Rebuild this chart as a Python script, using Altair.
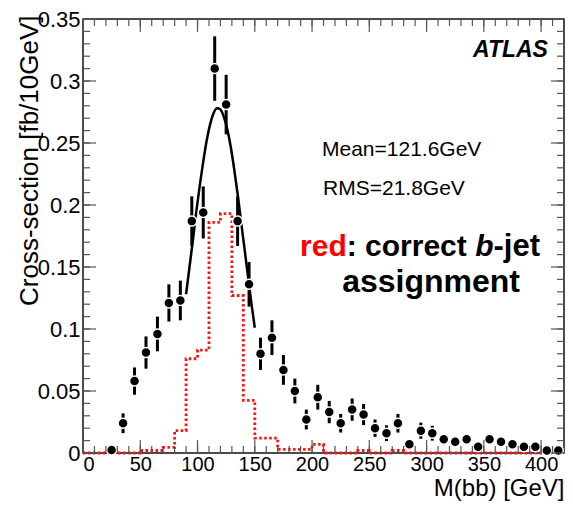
import altair as alt
import pandas as pd

# ---- data ----
centers = [25, 35, 45, 55, 65, 75, 85, 95, 105, 115, 125, 135, 145, 155, 165, 175, 185, 195,
           205, 215, 225, 235, 245, 255, 265, 275, 285, 295, 305, 315, 325, 335, 345, 355,
           365, 375, 385, 395, 405, 415]
xsec = [0.0024, 0.024, 0.058, 0.081, 0.096, 0.121, 0.123, 0.187, 0.194, 0.310, 0.281, 0.187,
        0.136, 0.080, 0.093, 0.067, 0.050, 0.027, 0.045, 0.033, 0.024, 0.035, 0.031, 0.020,
        0.016, 0.024, 0.007, 0.018, 0.016, 0.011, 0.009, 0.011, 0.005, 0.011, 0.009, 0.007,
        0.005, 0.005, 0.002, 0.002]
err = [0.002, 0.008, 0.011, 0.013, 0.014, 0.015, 0.016, 0.020, 0.021, 0.026, 0.024, 0.020,
       0.018, 0.013, 0.014, 0.012, 0.010, 0.008, 0.010, 0.009, 0.0075, 0.009, 0.0085, 0.007,
       0.0063, 0.0075, 0.003, 0.0065, 0.006, 0.004, 0.003, 0.004, 0.003, 0.004, 0.003, 0.003,
       0.003, 0.003, 0.002, 0.002]

red_edges = list(range(0, 430, 10))
red_vals = [0, 0, 0, 0, 0, 0.002, 0.002, 0.0045, 0.018, 0.076, 0.083, 0.186, 0.193, 0.127,
            0.0425, 0.012, 0.012, 0.003, 0.003, 0.003, 0.007, 0, 0, 0, 0.002, 0, 0, 0.002,
            0, 0, 0, 0, 0, 0, 0, 0, 0, 0, 0, 0, 0, 0]

fit_x = [90, 93, 96, 99, 102, 105, 108, 111, 114, 117, 120, 123, 126, 129, 132, 135, 138,
         141, 144, 147, 150]
fit_y = [0.128, 0.150, 0.172, 0.195, 0.216, 0.235, 0.252, 0.265, 0.274, 0.278, 0.277, 0.271,
         0.261, 0.247, 0.229, 0.209, 0.187, 0.165, 0.143, 0.121, 0.101]

x_major = [0, 50, 100, 150, 200, 250, 300, 350, 400]
x_minor = [v for v in range(10, 420, 10)]
y_major = [0, 0.05, 0.1, 0.15, 0.2, 0.25, 0.3, 0.35]
y_minor = [round(0.01 * i, 2) for i in range(1, 35)]

W, H = 481, 434
FONT = "Liberation Sans"

xscale = alt.Scale(domain=[0, 420], nice=False, zero=False)
yscale = alt.Scale(domain=[0, 0.35], nice=False, zero=False)

xaxis = alt.Axis(values=x_major, format="d", labelFont=FONT, labelFontSize=20,
                 labelColor="black", labelPadding=1, ticks=False, domain=False, grid=False,
                 title="M(bb) [GeV]", titleFont=FONT, titleFontSize=24,
                 titleFontWeight="normal", titleColor="black", titleAnchor="end",
                 titleAlign="right", titleX=W, titleY=42, titleBaseline="alphabetic")
yaxis = alt.Axis(values=y_major, format="~g", labelFont=FONT, labelFontSize=22,
                 labelColor="black", labelPadding=3, ticks=False, domain=False, grid=False,
                 title="Cross-section [fb/10GeV]", titleFont=FONT, titleFontSize=26,
                 titleFontWeight="normal", titleColor="black", titleAnchor="end",
                 titleAlign="right", titleAngle=-90, titleX=-46, titleY=-4,
                 titleBaseline="alphabetic")

X = alt.X("m:Q", scale=xscale, axis=xaxis)
Y = alt.Y("xs:Q", scale=yscale, axis=yaxis)

pts = pd.DataFrame({"m": centers, "xs": xsec,
                    "lo": [v - e for v, e in zip(xsec, err)],
                    "hi": [v + e for v, e in zip(xsec, err)]})
red = pd.DataFrame({"m": red_edges, "xs": red_vals + [red_vals[-1]]})
fit = pd.DataFrame({"m": fit_x, "xs": fit_y})

red_line = alt.Chart(red).mark_line(interpolate="step-after", color="#ff1010",
                                    strokeWidth=2.8, strokeDash=[2.5, 2.5]).encode(x=X, y=Y)

bars = alt.Chart(pts).mark_rule(color="black", strokeWidth=3).encode(
    x=X, y=alt.Y("lo:Q", scale=yscale, axis=yaxis), y2="hi:Q")
dots = alt.Chart(pts).mark_circle(size=100, color="black", opacity=1, stroke="white",
                                  strokeWidth=1.5).encode(x=X, y=Y)
fit_line = alt.Chart(fit).mark_line(interpolate="monotone", color="black",
                                    strokeWidth=2.5).encode(x=X, y=Y)

TICK = "#555555"
xmaj = pd.DataFrame({"m": x_major})
xmin = pd.DataFrame({"m": x_minor})
ymaj = pd.DataFrame({"xs": y_major})
ymin = pd.DataFrame({"xs": y_minor})

ticks = []
for df, ln in [(xmaj, 13), (xmin, 7)]:
    ticks.append(alt.Chart(df).mark_rule(color=TICK, strokeWidth=1.2).encode(
        x=X, y=alt.value(H), y2=alt.value(H - ln)))
    ticks.append(alt.Chart(df).mark_rule(color=TICK, strokeWidth=1.2).encode(
        x=X, y=alt.value(0), y2=alt.value(ln)))
for df, ln in [(ymaj, 13), (ymin, 7)]:
    ticks.append(alt.Chart(df).mark_rule(color=TICK, strokeWidth=1.2).encode(
        y=Y, x=alt.value(0), x2=alt.value(ln)))
    ticks.append(alt.Chart(df).mark_rule(color=TICK, strokeWidth=1.2).encode(
        y=Y, x=alt.value(W), x2=alt.value(W - ln)))

# ---- annotations (data coordinates) ----
def txt(m, xs, s, size, color="black", weight="normal", style="normal", align="left"):
    return alt.Chart(pd.DataFrame({"m": [m], "xs": [xs], "t": [s]})).mark_text(
        font=FONT, fontSize=size, color=color, fontWeight=weight, fontStyle=style,
        align=align, baseline="alphabetic").encode(x=X, y=Y, text="t:N")

texts = [
    txt(406.0, 0.3194, "ATLAS", 23, weight="bold", style="italic", align="right"),
    txt(208.7, 0.2395, "Mean=121.6GeV", 21),
    txt(209.6, 0.2081, "RMS=21.8GeV", 21),
    txt(189.5, 0.1591, "red", 30, color="#ff0000", weight="bold"),
    txt(230.3, 0.1591, ": correct", 30, weight="bold"),
    txt(342.4, 0.1591, "b", 30, weight="bold", style="italic"),
    txt(358.4, 0.1591, "-jet", 31, weight="bold"),
    txt(303.9, 0.1301, "assignment", 32, weight="bold", align="center"),
]

chart = alt.layer(red_line, bars, fit_line, dots, *ticks, *texts).properties(
    width=W, height=H,
    padding={"left": 75, "top": 11, "right": 1, "bottom": 48},
    autosize=alt.AutoSizeParams(type="none"),
    background="white",
).configure_view(stroke="#111111", strokeWidth=1.5)

chart.save("out.html", embed_options={"renderer": "svg", "actions": False})
